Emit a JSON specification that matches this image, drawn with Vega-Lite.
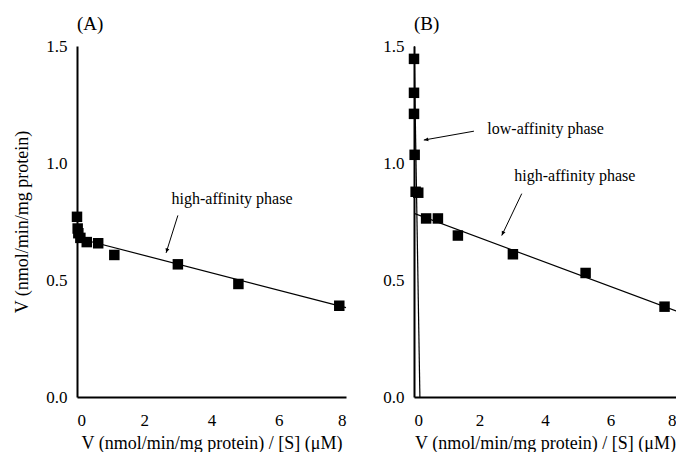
{
  "$schema": "https://vega.github.io/schema/vega-lite/v6.json",
  "background": "white",
  "padding": {"left": 13, "top": 15, "right": 0, "bottom": 0},
  "datasets": {
    "ptsA": [
      {"x": 0.0, "y": 0.77}, {"x": 0.02, "y": 0.72}, {"x": 0.04, "y": 0.70}, {"x": 0.1, "y": 0.68},
      {"x": 0.29, "y": 0.662}, {"x": 0.63, "y": 0.657}, {"x": 1.11, "y": 0.607}, {"x": 3.0, "y": 0.567},
      {"x": 4.8, "y": 0.483}, {"x": 7.8, "y": 0.39}
    ],
    "fitA": [{"x": 0.2, "y": 0.672, "phase": "high"}, {"x": 8.0, "y": 0.382, "phase": "high"}],
    "ptsB": [
      {"x": 0.0, "y": 1.445}, {"x": 0.0, "y": 1.30}, {"x": 0.0, "y": 1.21}, {"x": 0.02, "y": 1.035},
      {"x": 0.05, "y": 0.877}, {"x": 0.13, "y": 0.873}, {"x": 0.37, "y": 0.763}, {"x": 0.73, "y": 0.763},
      {"x": 1.34, "y": 0.69}, {"x": 3.02, "y": 0.61}, {"x": 5.24, "y": 0.53}, {"x": 7.65, "y": 0.386}
    ],
    "fitB": [
      {"x": 0.0, "y": 0.785, "phase": "high"}, {"x": 8.0, "y": 0.368, "phase": "high"},
      {"x": 0.003, "y": 1.5, "phase": "low"}, {"x": 0.18, "y": 0.0, "phase": "low"}
    ],
    "arrowsA": [{"id": "highA", "x": 3.0, "y": 0.776, "x2": 2.65, "y2": 0.616}],
    "arrowsB": [
      {"id": "low", "x": 1.83, "y": 1.136, "x2": 0.3, "y2": 1.098},
      {"id": "high", "x": 3.29, "y": 0.869, "x2": 2.68, "y2": 0.69}
    ],
    "labelsA": [{"text": "high-affinity phase", "x": 4.61, "y": 0.845}],
    "labelsB": [
      {"text": "low-affinity phase", "x": 4.02, "y": 1.144},
      {"text": "high-affinity phase", "x": 4.91, "y": 0.945}
    ],
    "xticks": [{"x": 0}, {"x": 1}, {"x": 2}, {"x": 3}, {"x": 4}, {"x": 5}, {"x": 6}, {"x": 7}, {"x": 8}],
    "yticks": [
      {"y": 0}, {"y": 0.1}, {"y": 0.2}, {"y": 0.3}, {"y": 0.4}, {"y": 0.5}, {"y": 0.6}, {"y": 0.7},
      {"y": 0.8}, {"y": 0.9}, {"y": 1.0}, {"y": 1.1}, {"y": 1.2}, {"y": 1.3}, {"y": 1.4}, {"y": 1.5}
    ]
  },
  "spacing": 33,
  "hconcat": [
    {
      "width": 269,
      "height": 351,
      "title": {"text": "(A)", "anchor": "start", "frame": "group", "offset": 3},
      "encoding": {
        "x": {"field": "x", "type": "quantitative", "scale": {"domain": [0, 8], "nice": false},
              "axis": {"title": "V (nmol/min/mg protein) / [S] (μM)", "values": [0, 2, 4, 6, 8],
                       "ticks": false, "tickSize": 0, "titlePadding": 6, "labelPadding": 15}},
        "y": {"field": "y", "type": "quantitative", "scale": {"domain": [0, 1.5], "nice": false},
              "axis": {"title": "V (nmol/min/mg protein)", "format": ".1f", "titlePadding": 14,
                       "ticks": false, "tickSize": 0, "labelPadding": 10, "values": [0, 0.5, 1.0, 1.5]}}
      },
      "layer": [
        {"data": {"name": "xticks"}, "transform": [{"filter": "datum.x % 2 === 0"}],
         "mark": {"type": "tick", "orient": "vertical", "size": 8, "thickness": 1.5, "yOffset": -4, "color": "black", "opacity": 1},
         "encoding": {"y": {"datum": 0, "type": "quantitative"}}},
        {"data": {"name": "xticks"}, "transform": [{"filter": "datum.x % 2 !== 0"}],
         "mark": {"type": "tick", "orient": "vertical", "size": 4, "thickness": 1.5, "yOffset": -2, "color": "black", "opacity": 1},
         "encoding": {"y": {"datum": 0, "type": "quantitative"}}},
        {"data": {"name": "yticks"}, "transform": [{"filter": "abs(datum.y * 2 - round(datum.y * 2)) < 0.001"}],
         "mark": {"type": "tick", "orient": "horizontal", "size": 8, "thickness": 1.5, "xOffset": 4, "color": "black", "opacity": 1},
         "encoding": {"x": {"datum": 0, "type": "quantitative"}}},
        {"data": {"name": "yticks"}, "transform": [{"filter": "abs(datum.y * 2 - round(datum.y * 2)) >= 0.001"}],
         "mark": {"type": "tick", "orient": "horizontal", "size": 4, "thickness": 1.5, "xOffset": 2, "color": "black", "opacity": 1},
         "encoding": {"x": {"datum": 0, "type": "quantitative"}}},
        {"data": {"name": "fitA"}, "mark": {"type": "line", "color": "black", "strokeWidth": 1.2},
         "encoding": {"detail": {"field": "phase"}}},
        {"data": {"name": "ptsA"}, "mark": {"type": "point", "shape": "square", "filled": true, "color": "black", "opacity": 1, "size": 110}},
        {"data": {"name": "arrowsA"}, "mark": {"type": "rule", "color": "black", "strokeWidth": 1},
         "encoding": {"x2": {"field": "x2"}, "y2": {"field": "y2"}}},
        {"data": {"name": "arrowsA"},
         "mark": {"type": "point", "shape": "M0,0L-0.45,1L0.45,1Z", "filled": true, "color": "black", "opacity": 1, "size": 80, "angle": 198},
         "encoding": {"x": {"field": "x2", "type": "quantitative"}, "y": {"field": "y2", "type": "quantitative"}}},
        {"data": {"name": "labelsA"}, "mark": {"type": "text", "font": "Liberation Serif", "fontSize": 16, "color": "black", "align": "center", "baseline": "middle"},
         "encoding": {"text": {"field": "text"}}}
      ]
    },
    {
      "width": 262,
      "height": 351,
      "title": {"text": "(B)", "anchor": "start", "frame": "group", "offset": 3},
      "encoding": {
        "x": {"field": "x", "type": "quantitative", "scale": {"domain": [0, 8], "nice": false},
              "axis": {"title": "V (nmol/min/mg protein) / [S] (μM)", "values": [0, 2, 4, 6, 8],
                       "ticks": false, "tickSize": 0, "titlePadding": 6, "labelPadding": 15}},
        "y": {"field": "y", "type": "quantitative", "scale": {"domain": [0, 1.5], "nice": false},
              "axis": {"title": null, "format": ".1f",
                       "ticks": false, "tickSize": 0, "labelPadding": 10, "values": [0, 0.5, 1.0, 1.5]}}
      },
      "layer": [
        {"data": {"name": "xticks"}, "transform": [{"filter": "datum.x % 2 === 0"}],
         "mark": {"type": "tick", "orient": "vertical", "size": 8, "thickness": 1.5, "yOffset": -4, "color": "black", "opacity": 1},
         "encoding": {"y": {"datum": 0, "type": "quantitative"}}},
        {"data": {"name": "xticks"}, "transform": [{"filter": "datum.x % 2 !== 0"}],
         "mark": {"type": "tick", "orient": "vertical", "size": 4, "thickness": 1.5, "yOffset": -2, "color": "black", "opacity": 1},
         "encoding": {"y": {"datum": 0, "type": "quantitative"}}},
        {"data": {"name": "yticks"}, "transform": [{"filter": "abs(datum.y * 2 - round(datum.y * 2)) < 0.001"}],
         "mark": {"type": "tick", "orient": "horizontal", "size": 8, "thickness": 1.5, "xOffset": 4, "color": "black", "opacity": 1},
         "encoding": {"x": {"datum": 0, "type": "quantitative"}}},
        {"data": {"name": "yticks"}, "transform": [{"filter": "abs(datum.y * 2 - round(datum.y * 2)) >= 0.001"}],
         "mark": {"type": "tick", "orient": "horizontal", "size": 4, "thickness": 1.5, "xOffset": 2, "color": "black", "opacity": 1},
         "encoding": {"x": {"datum": 0, "type": "quantitative"}}},
        {"data": {"name": "fitB"}, "mark": {"type": "line", "color": "black", "strokeWidth": 1.2, "clip": true},
         "encoding": {"detail": {"field": "phase"}}},
        {"data": {"name": "ptsB"}, "mark": {"type": "point", "shape": "square", "filled": true, "color": "black", "opacity": 1, "size": 110}},
        {"data": {"name": "arrowsB"}, "mark": {"type": "rule", "color": "black", "strokeWidth": 1},
         "encoding": {"x2": {"field": "x2"}, "y2": {"field": "y2"}}},
        {"data": {"name": "arrowsB"},
         "transform": [{"filter": "datum.id === 'low'"}],
         "mark": {"type": "point", "shape": "M0,0L-0.45,1L0.45,1Z", "filled": true, "color": "black", "opacity": 1, "size": 80, "angle": 261},
         "encoding": {"x": {"field": "x2", "type": "quantitative"}, "y": {"field": "y2", "type": "quantitative"}}},
        {"data": {"name": "arrowsB"},
         "transform": [{"filter": "datum.id === 'high'"}],
         "mark": {"type": "point", "shape": "M0,0L-0.45,1L0.45,1Z", "filled": true, "color": "black", "opacity": 1, "size": 80, "angle": 205},
         "encoding": {"x": {"field": "x2", "type": "quantitative"}, "y": {"field": "y2", "type": "quantitative"}}},
        {"data": {"name": "labelsB"}, "mark": {"type": "text", "font": "Liberation Serif", "fontSize": 16, "color": "black", "align": "center", "baseline": "middle"},
         "encoding": {"text": {"field": "text"}}}
      ]
    }
  ],
  "config": {
    "view": {"stroke": null},
    "font": "Liberation Serif",
    "title": {"font": "Liberation Serif", "fontSize": 19, "fontWeight": "normal", "color": "black"},
    "axis": {
      "grid": false,
      "domainColor": "black",
      "domainWidth": 2,
      "labelFont": "Liberation Serif",
      "labelFontSize": 17,
      "labelColor": "black",
      "titleFont": "Liberation Serif",
      "titleFontSize": 18,
      "titleFontWeight": "normal",
      "titleColor": "black"
    }
  }
}
